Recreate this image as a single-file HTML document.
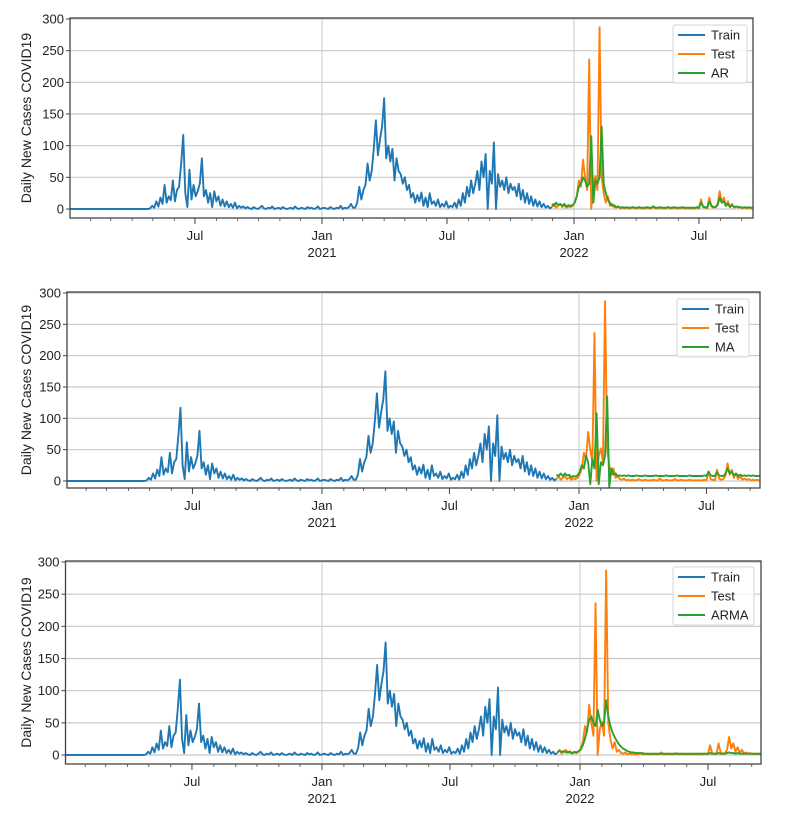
<!DOCTYPE html>
<html><head><meta charset="utf-8">
<style>
html,body{margin:0;padding:0;background:#fff;}
svg{display:block;font-family:"Liberation Sans",sans-serif;}
</style></head>
<body>
<svg id="chart" width="786" height="816" viewBox="0 0 786 816" xmlns="http://www.w3.org/2000/svg"></svg>
<script>
// ---- data (step = 3 days, day 0 = 2020-01-01) ----
const stepDays = 3;
const trainStartDay = 0;
const trainValues = [
0,0,0,0,0,0,0,0,0,0,0,0,0,0,0,0,0,0,0,0,0,0,0,0,0,0,0,0,0,0,0,0,0,0,0,0,0,0,0,
1,5,2,12,4,18,8,38,10,20,14,45,12,30,35,72,117,25,3,62,15,38,20,28,40,80,20,30,10,25,3,28,12,20,5,15,4,12,3,8,2,10,1,5,2,4,1,3,
1,0,3,1,0,2,5,1,0,2,1,4,0,1,2,0,3,1,0,1,2,0,4,1,0,2,1,0,3,1,2,0,1,4,0,1,2,1,0,3,1,0,2,1,5,0,2,1,3,8,2,
2,10,35,15,30,38,72,45,60,95,140,85,110,130,175,80,100,75,95,45,80,60,55,40,50,30,38,18,25,10,22,12,26,5,18,3,25,8,12,5,15,3,8,4,12,2,5,3,10,2,15,5,25,10,35,20,45,25,40,60,30,75,50,87,0,60,40,105,0,55,35,45,30,50,25,40,30,35,20,40,15,30,10,25,8,20,5,15,4,12,3,8,2,5,1,3];
const testStartDay = 699;
const testValues = [3,8,2,5,8,3,6,2,4,3,5,10,20,45,35,78,50,30,236,0,40,52,30,287,50,25,10,20,5,8,3,2,4,1,2,
1,2,1,1,3,1,1,2,1,1,1,2,1,1,4,1,1,2,1,1,1,3,1,1,2,1,1,1,2,1,1,1,
1,1,1,2,1,15,3,2,1,18,4,2,3,8,28,10,18,5,12,3,8,2,4,2,3,1,2,1,2,1,1];
const arValues = [8,5,10,6,8,5,8,4,6,5,6,10,20,35,40,50,45,35,40,115,10,45,40,50,130,40,25,15,10,5,6,3,4,2,3,
2,3,2,2,3,2,2,3,2,2,2,3,2,2,4,2,2,3,2,2,2,3,2,2,3,2,2,2,3,2,2,2,
2,2,2,3,2,10,4,3,2,12,5,3,3,6,18,10,12,5,8,3,6,3,4,3,3,2,3,2,3,2,2];
const maValues = [10,8,12,8,12,9,10,6,8,7,9,15,25,20,40,30,-5,35,20,108,-5,30,25,40,135,-10,20,10,12,8,9,8,9,8,9,
8,8,8,9,8,8,8,9,8,8,8,8,9,8,8,8,8,9,8,8,8,8,9,8,8,8,8,8,9,8,8,8,
8,8,8,9,8,15,9,8,8,14,9,8,8,12,20,12,15,9,12,8,10,8,9,8,9,8,9,8,8,8,8];
const armaValues = [5,6,5,6,4,5,4,3,5,4,6,8,15,25,40,55,60,50,45,70,55,45,50,85,60,45,35,28,22,17,13,10,8,6,5,
4,4,3,3,3,3,2,2,2,2,2,2,2,2,2,2,2,2,2,2,2,2,2,2,2,2,2,2,2,2,2,2,
2,2,2,2,2,3,2,2,2,3,2,2,2,3,4,3,3,2,3,2,2,2,2,2,2,2,2,2,2,2,2];
const yTicks = [0,50,100,150,200,250,300];
const majorTickDays = [182,366,547,731,912];
const majorTickLabels = ["Jul","Jan","Jul","Jan","Jul"];
const yearLabels = ["","2021","","2022",""];
const monthStartDays = [0,31,60,91,121,152,182,213,244,274,305,335,366,397,425,456,486,517,547,578,609,639,670,700,731,762,790,821,851,882,912,943,974];
const modelNames = ["AR","MA","ARMA"];

const NS="http://www.w3.org/2000/svg";
const svg=document.getElementById('chart');
function mk(tag,attrs,parent){const e=document.createElementNS(NS,tag);for(const k in attrs)e.setAttribute(k,attrs[k]);(parent||svg).appendChild(e);return e;}

const panels=[
 {left:70,right:753,top:18,bottom:218,y0:209,y300:19,xJan21:322,xJan22:574,legX:673,legY:25,legW:74,model:arValues},
 {left:67,right:760,top:292,bottom:488,y0:481,y300:293,xJan21:322,xJan22:579,legX:677,legY:299,legW:72,model:maValues},
 {left:65.5,right:761,top:561,bottom:764,y0:755,y300:562,xJan21:322,xJan22:580,legX:673,legY:567,legW:81,model:armaValues}
];
const colors={train:"#1f77b4",test:"#ff7f0e",model:"#2ca02c"};

panels.forEach((p,pi)=>{
  const g=mk('g',{});
  
  
  const pxDay=(p.xJan22-p.xJan21)/365;
  const xs=d=>p.xJan21+(d-366)*pxDay;
  const ys=v=>p.y0+(p.y300-p.y0)*v/300;
  const clipId='clip'+pi;
  const cp=mk('clipPath',{id:clipId},g);
  mk('rect',{x:p.left,y:p.top,width:p.right-p.left,height:p.bottom-p.top},cp);
  yTicks.forEach(t=>{
    const l=mk('line',{x1:p.left,x2:p.right,y1:ys(t),y2:ys(t),stroke:"#c8c8c8","stroke-width":1.2},g);
    
    
  });
  majorTickDays.forEach((d,i)=>{
    if(majorTickLabels[i]==="Jan"){
      const l=mk('line',{x1:xs(d),x2:xs(d),y1:p.top,y2:p.bottom,stroke:"#c8c8c8","stroke-width":1},g);
      
      
    }
  });
  function series(start,vals,color,name){
    let dstr="";
    vals.forEach((v,i)=>{dstr+=(i?"L":"M")+xs(start+i*stepDays).toFixed(2)+","+ys(v).toFixed(2);});
    const path=mk('path',{d:dstr,fill:"none",stroke:color,"stroke-width":1.9,"stroke-linejoin":"round","clip-path":"url(#"+clipId+")"},g);
    
    
  }
  series(trainStartDay,trainValues,colors.train,'train-line');
  series(testStartDay,testValues,colors.test,'test-line');
  series(testStartDay,p.model,colors.model,modelNames[pi].toLowerCase()+'-line');
  const fr=mk('rect',{x:p.left,y:p.top,width:p.right-p.left,height:p.bottom-p.top,fill:"none",stroke:"#444","stroke-width":1.3},g);
  
  
  yTicks.forEach(t=>{
    mk('line',{x1:p.left-4,x2:p.left,y1:ys(t),y2:ys(t),stroke:"#444","stroke-width":1},g);
    const tx=mk('text',{x:p.left-6,y:ys(t)+4.5,"text-anchor":"end","font-size":13,fill:"#222"},g);
    tx.textContent=t;
    
    
  });
  monthStartDays.forEach(d=>{
    const x=xs(d); if(x<p.left-0.5||x>p.right+0.5)return;
    mk('line',{x1:x,x2:x,y1:p.bottom,y2:p.bottom+3,stroke:"#444","stroke-width":0.8},g);
  });
  majorTickDays.forEach((d,i)=>{
    const x=xs(d);
    mk('line',{x1:x,x2:x,y1:p.bottom,y2:p.bottom+6,stroke:"#444","stroke-width":1},g);
    const t=mk('text',{x:x,y:p.bottom+22,"text-anchor":"middle","font-size":13,fill:"#222"},g);
    t.textContent=majorTickLabels[i];
    
    
    if(yearLabels[i]){
      const t2=mk('text',{x:x,y:p.bottom+39,"text-anchor":"middle","font-size":13,fill:"#222"},g);
      t2.textContent=yearLabels[i];
      
      
    }
  });
  const cy=(p.top+p.bottom)/2;
  const yt=mk('text',{x:0,y:0,transform:"translate(31,"+cy+") rotate(-90)","text-anchor":"middle","font-size":14,fill:"#222"},g);
  yt.textContent="Daily New Cases COVID19";
  
  
  const lg=mk('g',{},g);
  
  
  mk('rect',{x:p.legX,y:p.legY,width:p.legW,height:58,fill:"#fff","fill-opacity":0.85,stroke:"#d5d5d5","stroke-width":1,rx:2},lg);
  const ents=[["Train",colors.train],["Test",colors.test],[modelNames[pi],colors.model]];
  ents.forEach((e,i)=>{
    const yy=p.legY+10+i*19;
    mk('line',{x1:p.legX+5,x2:p.legX+32,y1:yy,y2:yy,stroke:e[1],"stroke-width":2},lg);
    const t=mk('text',{x:p.legX+38,y:yy+4.5,"font-size":13,fill:"#222"},lg);
    t.textContent=e[0];
    
    
  });
});
</script>
</body></html>
